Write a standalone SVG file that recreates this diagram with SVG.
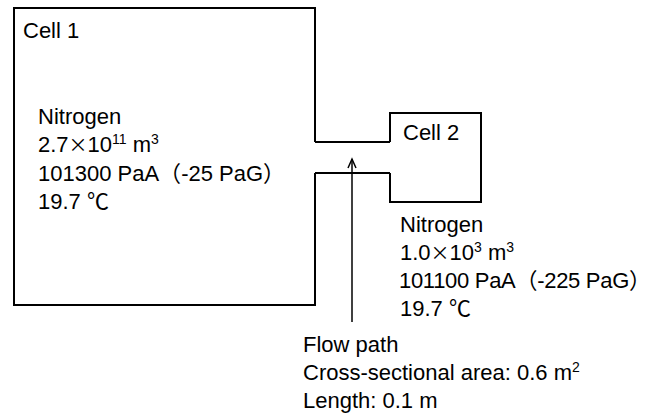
<svg xmlns="http://www.w3.org/2000/svg" width="657" height="416" viewBox="0 0 657 416">
<style>
.wall{fill:none;stroke:#000;stroke-width:2;stroke-linejoin:miter}
.t{font-family:"Liberation Sans","Noto Sans CJK JP",sans-serif;font-size:22px;fill:#000}
.cjk{font-family:"Noto Sans CJK JP","Liberation Sans",sans-serif}
.x{font-family:"Noto Sans CJK JP","Liberation Sans",sans-serif;font-size:19px}
.sup{font-size:14px}
.tight{letter-spacing:-0.3px}
.arrow{fill:none;stroke:#000;stroke-width:1.5}
</style>
<defs>
<marker id="ah" markerWidth="12" markerHeight="12" refX="10" refY="6" orient="auto" markerUnits="userSpaceOnUse">
<path d="M1,2 L10,6 L1,10" fill="none" stroke="#000" stroke-width="1.5"/>
</marker>
</defs>
<rect width="657" height="416" fill="#fff"/>
<g id="cell1">
<path class="wall" d="M315,142 V8 H14 V305 H315 V173"/>
<text class="t" x="23" y="38">Cell 1</text>
<text class="t" x="38" y="124">Nitrogen</text>
<text class="t" x="38" y="152">2.7<tspan class="x">×</tspan>10<tspan class="sup" dy="-8">11</tspan><tspan dy="8"> m</tspan><tspan class="sup" dy="-8">3</tspan></text>
<text class="t" x="38" y="181">101300 PaA<tspan class="cjk">（</tspan>-25 PaG<tspan class="cjk">）</tspan></text>
<text class="t" x="38" y="209">19.7 <tspan class="cjk">℃</tspan></text>
</g>
<g id="flowpath">
<path class="wall" d="M315,142 H390 M315,173 H390"/>
<text class="t" x="303" y="352">Flow path</text>
<text class="t" x="303" y="380">Cross-sectional area: 0.6 m<tspan class="sup" dy="-8">2</tspan></text>
<text class="t" x="303" y="408">Length: 0.1 m</text>
</g>
<g id="cell2">
<path class="wall" d="M390,142 V113 H481 V202 H390 V173"/>
<text class="t" x="403" y="140">Cell 2</text>
<text class="t" x="400" y="232">Nitrogen</text>
<text class="t" x="400" y="260">1.0<tspan class="x">×</tspan>10<tspan class="sup" dy="-8">3</tspan><tspan dy="8"> m</tspan><tspan class="sup" dy="-8">3</tspan></text>
<text class="t tight" x="399" y="288">101100 PaA<tspan class="cjk">（</tspan>-225 PaG<tspan class="cjk">）</tspan></text>
<text class="t" x="400" y="316">19.7 <tspan class="cjk">℃</tspan></text>
</g>
<g id="connectors">
<line class="arrow" x1="352" y1="322" x2="352" y2="159" marker-end="url(#ah)"/>
</g>
</svg>
